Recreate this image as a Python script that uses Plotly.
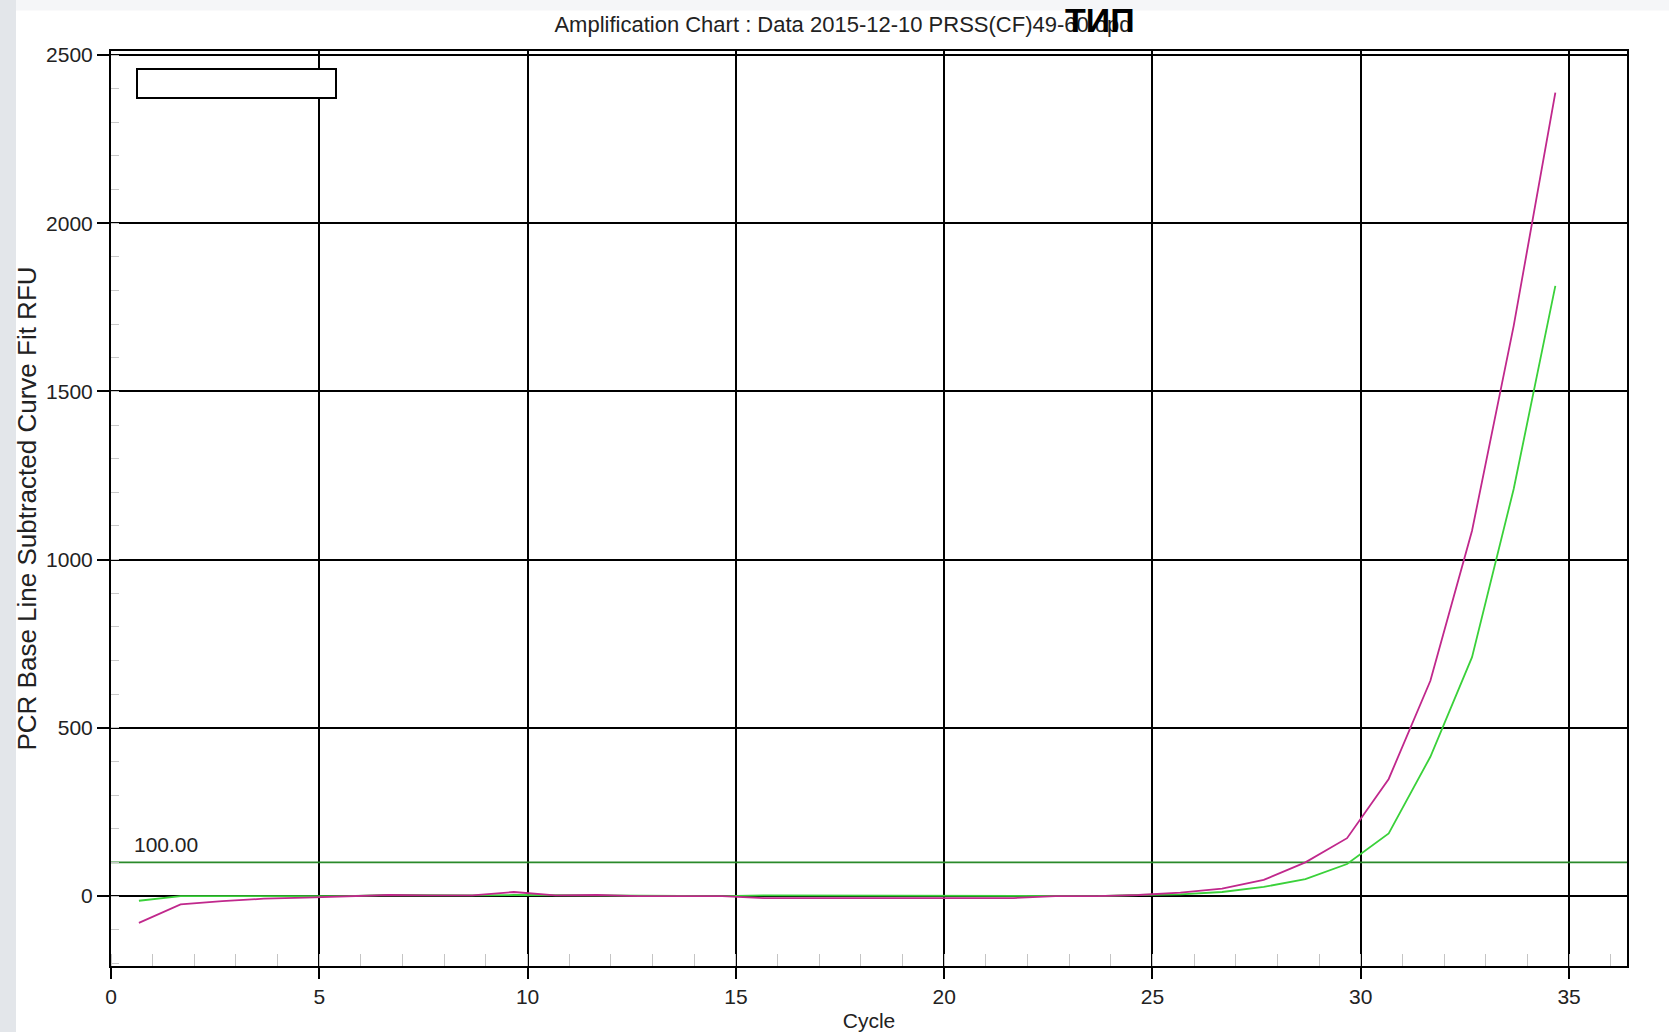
import plotly.graph_objects as go

# ---- data ----
cycles = [0.67, 1.67, 2.67, 3.67, 4.67, 5.67, 6.67, 7.67, 8.67, 9.67,
          10.67, 11.67, 12.67, 13.67, 14.67, 15.67, 16.67, 17.67, 18.67, 19.67,
          20.67, 21.67, 22.67, 23.67, 24.67, 25.67, 26.67, 27.67, 28.67, 29.67,
          30.67, 31.67, 32.67, 33.67, 34.67]

rfu_green = [-14, 0, 0, 0, 0, 0, 3, 2, 2, 3,
             2, 3, 0, 0, 0, 2, 2, 0, 2, 2,
             2, 2, 0, 0, 3, 5, 12, 27, 50, 95,
             186, 414, 710, 1210, 1814]

rfu_magenta = [-80, -25, -15, -8, -5, 0, 3, 2, 2, 12,
               2, 3, 0, 0, 0, -6, -6, -5, -6, -6,
               -6, -6, 0, 0, 3, 10, 22, 48, 100, 172,
               348, 640, 1086, 1695, 2388]

threshold = 100.0
x_ticks = [0, 5, 10, 15, 20, 25, 30, 35]
y_ticks = [0, 500, 1000, 1500, 2000, 2500]

title_text = "Amplification Chart : Data 2015-12-10 PRSS(CF)49-60.opd"
overlay_text = "ТИП"
x_title = "Cycle"
y_title = "PCR Base Line Subtracted Curve Fit RFU"

# ---- layout geometry (pixels) ----
W, H = 1669, 1032
L, R, T, B = 111, 1627, 51, 966
x_range = [0, 36.39]
y_range = [-208, 2512]

FONT = "Arial, Liberation Sans, sans-serif"

fig = go.Figure()

# threshold line
fig.add_trace(go.Scatter(x=x_range, y=[threshold, threshold], mode="lines",
                         line=dict(color="#2b8a2b", width=1.8),
                         hoverinfo="skip", showlegend=False))

fig.add_trace(go.Scatter(x=cycles, y=rfu_green, mode="lines",
                         line=dict(color="#3ad13a", width=1.8),
                         name="green", showlegend=False))
fig.add_trace(go.Scatter(x=cycles, y=rfu_magenta, mode="lines",
                         line=dict(color="#c0288c", width=1.8),
                         name="magenta", showlegend=False))

pw = R - L
ph = B - T

def px_x(p):
    return (p - L) / pw

def px_y(p):
    return (B - p) / ph

shapes = [
    # gray strips outside plot (slide background)
    dict(type="rect", xref="paper", yref="paper", x0=px_x(0), x1=px_x(W),
         y0=px_y(0), y1=px_y(10.5), fillcolor="#f5f6f8", line=dict(width=0), layer="below"),
    dict(type="rect", xref="paper", yref="paper", x0=px_x(0), x1=px_x(16),
         y0=px_y(0), y1=px_y(H), fillcolor="#e3e6ea", line=dict(width=0), layer="below"),
    # empty legend box
    dict(type="rect", xref="paper", yref="paper", x0=px_x(137), x1=px_x(336),
         y0=px_y(98), y1=px_y(69), fillcolor="white",
         line=dict(color="black", width=2), layer="above"),
]

annotations = [
    dict(text=overlay_text, xref="paper", yref="paper", x=px_x(1100), y=px_y(20),
         xanchor="center", yanchor="middle", showarrow=False,
         font=dict(family=FONT, size=34, color="black", weight="bold")),
    dict(text=f"{threshold:.2f}", xref="x", yref="y", x=0.5, y=threshold,
         xanchor="left", yanchor="bottom", yshift=4, showarrow=False,
         font=dict(family=FONT, size=21, color="#222222")),
]

fig.update_layout(
    width=W, height=H,
    margin=dict(l=L, r=W - R, t=T, b=H - B, autoexpand=False),
    paper_bgcolor="white", plot_bgcolor="white",
    font=dict(family=FONT, size=21, color="#222222"),
    title=dict(text=title_text, x=843 / W, y=1 - 24.5 / H, xref="container", yref="container",
               xanchor="center", yanchor="middle",
               font=dict(family=FONT, size=22, color="#222222")),
    shapes=shapes,
    annotations=annotations,
    showlegend=False,
)

fig.update_xaxes(
    range=x_range, tickmode="array", tickvals=x_ticks, ticktext=[str(v) for v in x_ticks],
    showgrid=True, gridcolor="black", gridwidth=1.8,
    showline=True, linecolor="black", linewidth=2, mirror=True,
    ticks="outside", ticklen=11, tickwidth=1.5, tickcolor="black",
    tickfont=dict(family=FONT, size=21, color="#222222"),
    zeroline=False,
    minor=dict(dtick=1, tick0=0, ticks="inside", ticklen=12, tickwidth=1,
               tickcolor="#c4c4c4", showgrid=False),
    title=dict(text=x_title, standoff=7, font=dict(family=FONT, size=21, color="#222222")),
)

fig.update_yaxes(
    range=y_range, tickmode="array", tickvals=y_ticks, ticktext=[str(v) for v in y_ticks],
    showgrid=True, gridcolor="black", gridwidth=1.8,
    showline=True, linecolor="black", linewidth=2, mirror=True,
    ticks="outside", ticklen=12, tickwidth=1.5, tickcolor="black",
    tickfont=dict(family=FONT, size=21, color="#222222"),
    zeroline=True, zerolinecolor="black", zerolinewidth=2,
    minor=dict(dtick=100, tick0=0, ticks="inside", ticklen=8, tickwidth=1,
               tickcolor="#c8c8c8", showgrid=False),
    title=dict(text=y_title, standoff=2, font=dict(family=FONT, size=26, color="#222222")),
)

fig.write_html("out.html", config={"displayModeBar": False},
               post_script="document.body.style.margin='0';")
